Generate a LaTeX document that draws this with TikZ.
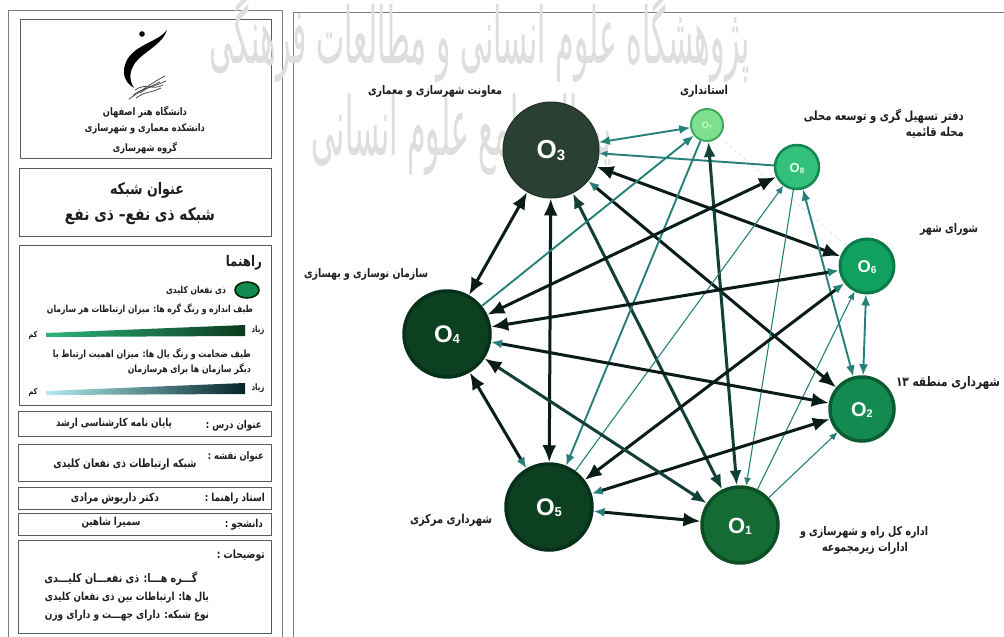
\documentclass[tikz,border=0pt]{standalone}
\usepackage{graphicx}
\usepackage{fontspec}
\setmainfont{Liberation Sans}
\usetikzlibrary{arrows.meta,shapes.geometric}
\TeXXeTstate=1
\newfontfamily\fafont[Script=Arabic]{DejaVu Sans}
% real text, fitted to a width in px and a little taller than DejaVu's proportions
\newcommand{\ft}[2]{\scalebox{1}[1.25]{\resizebox{#1pt}{!}{\fafont\bfseries #2}}}
\definecolor{edgeK}{HTML}{0A1C18}
\definecolor{edgeD}{HTML}{123F38}
\definecolor{edgeT}{HTML}{26807A}
\definecolor{frameG}{HTML}{7F7F7F}
\definecolor{boxG}{HTML}{5A5A5A}
\definecolor{txtG}{HTML}{1E1E1E}
\definecolor{fillA}{HTML}{2A4032}\definecolor{lineA}{HTML}{1E2E24}
\definecolor{fillB}{HTML}{0C4020}\definecolor{lineB}{HTML}{07301A}
\definecolor{fillC}{HTML}{146B33}\definecolor{lineC}{HTML}{0C4F25}
\definecolor{fillD}{HTML}{128A50}\definecolor{lineD}{HTML}{0A5C33}
\definecolor{fillE}{HTML}{10A060}\definecolor{lineE}{HTML}{0A7A48}
\definecolor{fillF}{HTML}{33C07A}\definecolor{lineF}{HTML}{12874F}
\definecolor{fillG}{HTML}{7EE08E}\definecolor{lineG}{HTML}{3FA860}
\tikzset{
  KH/.tip={Latex[length=17pt,width=14pt,color=edgeK]},
  DH/.tip={Latex[length=15pt,width=12pt,color=edgeD]},
  TH/.tip={Latex[length=11pt,width=9pt,color=edgeT]},
  SH/.tip={Latex[length=8pt,width=7pt,color=edgeT]},
  ek/.style={draw=edgeK,line width=3pt},
  ed/.style={draw=edgeD,line width=3pt},
  et/.style={draw=edgeT,line width=1.9pt},
  es/.style={draw=edgeT,line width=1.1pt},
  org/.style={circle,inner sep=0pt},
  lab/.style={inner sep=0pt,text=txtG},
  pan/.style={draw=boxG,line width=1pt,fill=white},
  wm/.style={inner sep=0pt,text=black!13,font=\fafont},
  ot/.style={inner sep=0pt,text=white,font=\bfseries},
}
\begin{document}
\begin{tikzpicture}[x=1pt,y=-1pt]
\useasboundingbox (0,0) rectangle (1004,637);
\fill[white] (0,0) rectangle (1004,637);
% right frame
\draw[frameG,line width=.8pt] (293,637) -- (293,12) -- (1004,12);
% left panel
\draw[frameG,line width=1pt,fill=white] (8,10) rectangle (282,640);
\draw[pan] (20,19) rectangle (271,158);
\draw[pan] (19,168) rectangle (271,236);
\draw[pan] (19,245) rectangle (271,405);
\draw[pan] (18,411) rectangle (271,436);
\draw[pan] (18,444) rectangle (271,481);
\draw[pan] (18,487) rectangle (271,509);
\draw[pan] (18,513) rectangle (271,535);
\draw[pan] (18,540) rectangle (271,633);
% watermark
\node[wm] (wm1) at (480,38) {\resizebox{540pt}{70pt}{\fafont\beginR پژوهشگاه علوم انسانی و مطالعات فرهنگی\endR}};
\node[wm] (wm2) at (462,134) {\resizebox{300pt}{62pt}{\fafont\beginR پرتال جامع علوم انسانی\endR}};
% logo
\fill[black] (142,34) circle (2.8);
\fill[black] (167,30) .. controls (158,42) and (136,44) .. (127,60) .. controls (121,72) and (124,82) .. (134,88)
   .. controls (129,80) and (129,72) .. (135,63) .. controls (143,52) and (162,45) .. (167,30) -- cycle;
\foreach \a/\b/\c/\d in {129/99/165/76,133/95/166/81,136/98/161/88,135/90/163/85,140/93/160/82}
  \draw[black!70,line width=.8pt] (\a,\b) .. controls (\a+12,\b-8) and (\c-12,\d+6) .. (\c,\d);
% left panel text
\node[lab] (t1) at (145,112) {\ft{84}{\beginR دانشگاه هنر اصفهان\endR}};
\node[lab] (t2) at (145,129) {\ft{120}{\beginR دانشکده معماری و شهرسازی\endR}};
\node[lab] (t3) at (145,148) {\ft{64}{\beginR گروه شهرسازی\endR}};
\node[lab] (t4) at (147,190) {\ft{74}{\beginR عنوان شبکه\endR}};
\node[lab] (t5) at (140,216) {\ft{150}{\beginR شبکه ذی نفع– ذی نفع\endR}};
\node[lab,anchor=east] (t6) at (262,263) {\ft{36}{\beginR راهنما\endR}};
\node[lab] (t7) at (196,291) {\ft{60}{\beginR ذی نفعان کلیدی\endR}};
\node[lab] (t8) at (150,309) {\ft{206}{\beginR طیف اندازه و رنگ گره ها: میزان ارتباطات هر سازمان\endR}};
\node[lab] (t9) at (258,330) {\ft{13}{\beginR زیاد\endR}};
\node[lab] (t10) at (33,335) {\ft{9}{\beginR کم\endR}};
\node[lab,anchor=east] (t11) at (251,354) {\ft{198}{\beginR طیف ضخامت و رنگ یال ها: میزان اهمیت ارتباط با\endR}};
\node[lab,anchor=east] (t12) at (251,369) {\ft{123}{\beginR دیگر سازمان ها برای هرسازمان\endR}};
\node[lab] (t13) at (258,388) {\ft{13}{\beginR زیاد\endR}};
\node[lab] (t14) at (33,392) {\ft{9}{\beginR کم\endR}};
\node[lab,anchor=east] (t15) at (262,426) {\ft{56}{\beginR عنوان درس :\endR}};
\node[lab] (t16) at (114,424) {\ft{116}{\beginR پایان نامه کارشناسی ارشد\endR}};
\node[lab,anchor=east] (t17) at (264,457) {\ft{56}{\beginR عنوان نقشه :\endR}};
\node[lab] (t18) at (125,465) {\ft{143}{\beginR شبکه ارتباطات ذی نفعان کلیدی\endR}};
\node[lab,anchor=east] (t19) at (265,499) {\ft{60}{\beginR استاد راهنما :\endR}};
\node[lab] (t20) at (115,499) {\ft{88}{\beginR دکتر داریوش مرادی\endR}};
\node[lab,anchor=east] (t21) at (263,525) {\ft{38}{\beginR دانشجو :\endR}};
\node[lab] (t22) at (111,523) {\ft{59}{\beginR سمیرا شاهین\endR}};
\node[lab,anchor=east] (t23) at (265,556) {\ft{48}{\beginR توضیحات :\endR}};
\node[lab] (t24) at (121,579) {\ft{153}{\beginR گـــره هـــا: ذی نفعـــان کلیـــدی\endR}};
\node[lab] (t25) at (127,598) {\ft{164}{\beginR یال ها: ارتباطات بین ذی نفعان کلیدی\endR}};
\node[lab] (t26) at (127,616) {\ft{164}{\beginR نوع شبکه: دارای جهـــت و دارای وزن\endR}};
% legend
\definecolor{barA}{HTML}{2AB57A}\definecolor{barB}{HTML}{17784A}\definecolor{barC}{HTML}{0C3B1E}
\definecolor{barD}{HTML}{B0EEF0}\definecolor{barE}{HTML}{24808A}\definecolor{barF}{HTML}{04262A}
\node[ellipse,draw=black!85!green,line width=1.6pt,fill=fillD,minimum width=24pt,minimum height=16pt,inner sep=0pt] (lg) at (247,290) {};
\shade[left color=barA,middle color=barB,right color=barC] (46,333) -- (245,325) -- (245,336) -- (46,337) -- cycle;
\shade[left color=barD,middle color=barE,right color=barF] (46,391) -- (245,383) -- (245,394) -- (46,395) -- cycle;
% faint dashed
\coordinate (fa) at (725,142);
\coordinate (fb) at (848,247);
\draw[black!12,dashed,line width=.7pt] (fa) -- (fb);
% organisations
\node[org,minimum size=96pt,fill=fillA,draw=lineA,line width=1pt] (o3) at (551,150) {};
\node[org,minimum size=86pt,draw=lineB,line width=3.5pt,fill=fillB] (o4) at (447,334) {};
\node[org,minimum size=86pt,draw=lineB,line width=3.5pt,fill=fillB] (o5) at (549,507) {};
\node[org,minimum size=76pt,draw=lineC,line width=3.5pt,fill=fillC] (o1) at (740,525) {};
\node[org,minimum size=64pt,draw=lineD,line width=3.5pt,fill=fillD] (o2) at (862,409) {};
\node[org,minimum size=54pt,draw=lineE,line width=3pt,fill=fillE] (o6) at (867,266) {};
\node[org,minimum size=44pt,draw=lineF,line width=2.5pt,fill=fillF] (o8) at (797,167) {};
\node[org,minimum size=32pt,draw=lineG,line width=2pt,fill=fillG] (o7) at (707,125) {};
% edges
\draw[KH-KH,ek] (o3) -- (o4);
\draw[KH-KH,ek] (o3) -- (o5);
\draw[DH-DH,ed] (o3) -- (o1);
\draw[KH-KH,ek] (o3) -- (o6);
\draw[TH-KH,ek] (o3) -- (o2);
\draw[TH-TH,et] (o3) -- (o7);
\draw[-SH,et] (o8) -- (o3);
\draw[DH-DH,ed] (o7) -- (o1);
\draw[-TH,et] (o4) -- (o7);
\draw[-TH,et] (o7) -- (o5);
\draw[KH-KH,ek] (o4) -- (o8);
\draw[-SH,es] (o5) -- (o8);
\draw[-SH,es] (o8) -- (o1);
\draw[TH-TH,et] (o8) -- (o2);
\draw[TH-TH,et] (o6) -- (o2);
\draw[KH-TH,ek] (o4) -- (o6);
\draw[KH-TH,ek] (o5) -- (o6);
\draw[-SH,es] (o1) -- (o6);
\draw[TH-KH,ek] (o4) -- (o2);
\draw[TH-KH,ek] (o5) -- (o2);
\draw[-SH,es] (o1) -- (o2);
\draw[KH-DH,ed] (o4) -- (o1);
\draw[TH-KH,ek] (o5) -- (o1);
\draw[KH-TH,ek] (o4) -- (o5);
% node texts
\node[ot] (l3) at (551,151) {\fontsize{26}{26}\selectfont O\fontsize{15}{15}\selectfont\raisebox{-2pt}{3}};
\node[ot] (l4) at (447,335) {\fontsize{24}{24}\selectfont O\fontsize{13}{13}\selectfont\raisebox{-1pt}{4}};
\node[ot] (l5) at (549,508) {\fontsize{24}{24}\selectfont O\fontsize{13}{13}\selectfont\raisebox{-1pt}{5}};
\node[ot] (l1) at (740,526) {\fontsize{22}{22}\selectfont O\fontsize{12}{12}\selectfont\raisebox{-1pt}{1}};
\node[ot] (l2) at (862,410) {\fontsize{20}{20}\selectfont O\fontsize{11}{11}\selectfont\raisebox{-1pt}{2}};
\node[ot] (l6) at (867,267) {\fontsize{17}{17}\selectfont O\fontsize{10}{10}\selectfont\raisebox{-1pt}{6}};
\node[ot,text=white!90!green] (l8) at (797,168) {\fontsize{13}{13}\selectfont O\fontsize{8}{8}\selectfont\raisebox{-1pt}{8}};
\node[ot,text=white!80!green] (l7) at (707,126) {\fontsize{9}{9}\selectfont O\fontsize{6}{6}\selectfont\raisebox{-.5pt}{7}};
% organisation labels
\node[lab] (n3) at (435,91) {\ft{134}{\beginR معاونت شهرسازی و معماری\endR}};
\node[lab] (n7) at (704,91) {\ft{48}{\beginR استانداری\endR}};
\node[lab,anchor=east] (n8a) at (964,116) {\ft{160}{\beginR دفتر تسهیل گری و  توسعه محلی\endR}};
\node[lab,anchor=east] (n8b) at (964,133) {\ft{58}{\beginR محله قائمیه\endR}};
\node[lab] (n6) at (949,229) {\ft{58}{\beginR شورای شهر\endR}};
\node[lab] (n2) at (948,383) {\ft{104}{\beginR شهرداری منطقه \beginL ۱۳\endL\endR}};
\node[lab] (n1a) at (864,532) {\ft{128}{\beginR اداره کل راه و شهرسازی و\endR}};
\node[lab] (n1b) at (865,548) {\ft{86}{\beginR ادارات زیرمجموعه\endR}};
\node[lab] (n5) at (451,520) {\ft{82}{\beginR شهرداری مرکزی\endR}};
\node[lab] (n4) at (366,274) {\ft{124}{\beginR سازمان نوسازی و بهسازی\endR}};
\end{tikzpicture}
\end{document}
